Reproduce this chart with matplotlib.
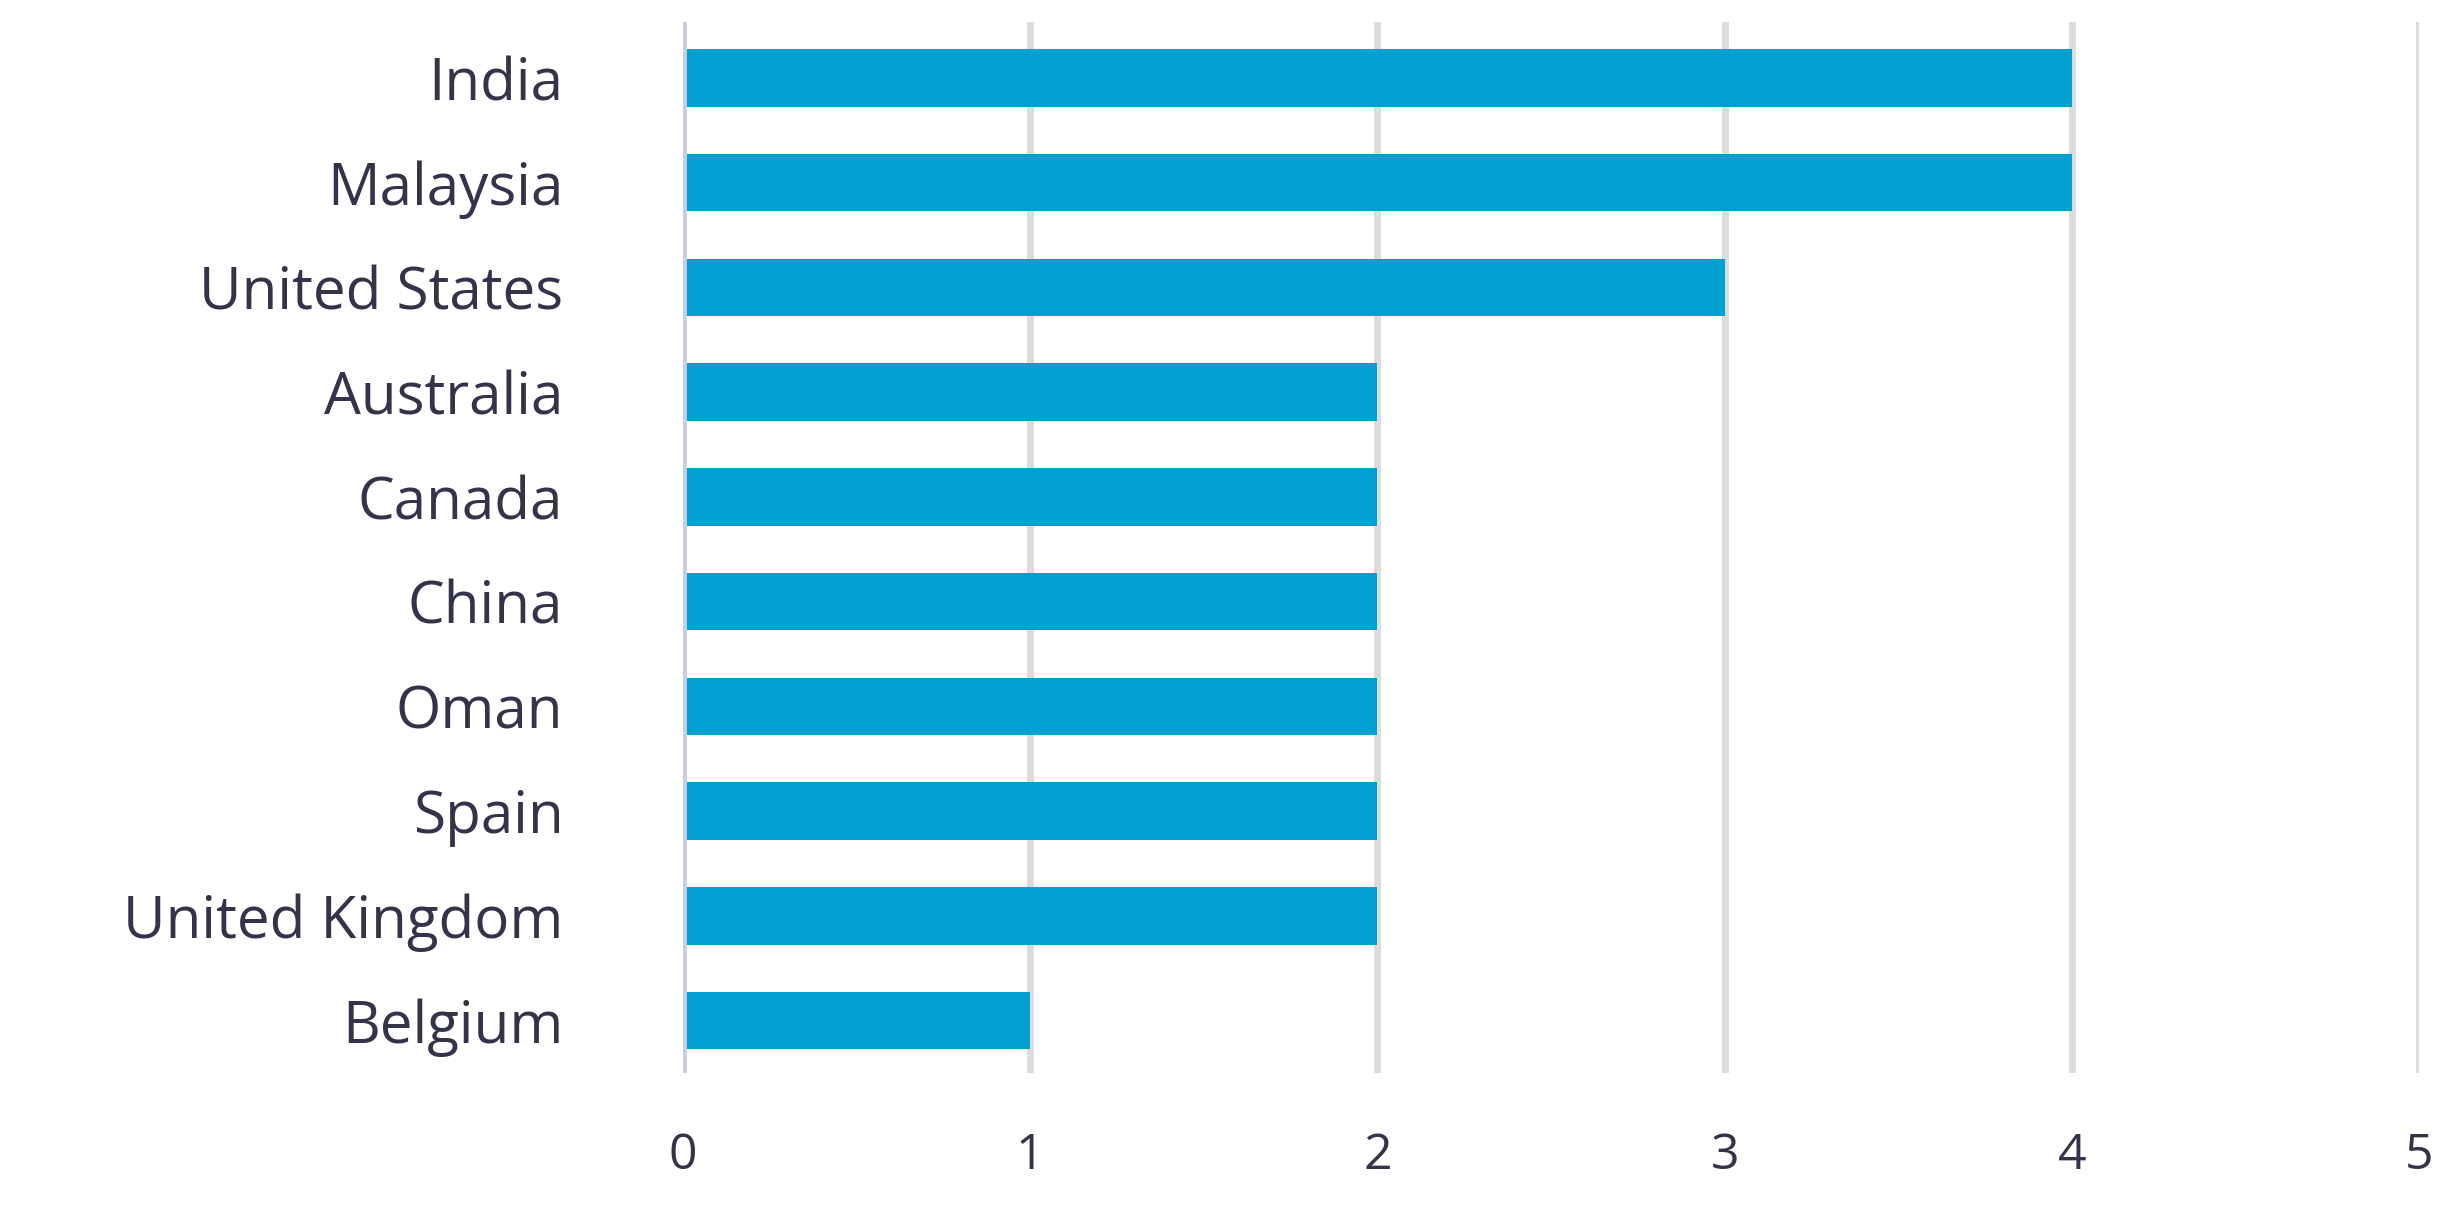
import numpy as np
import matplotlib.pyplot as plt

countries = ['India', 'Malaysia', 'United States', 'Australia', 'Canada',
             'China', 'Oman', 'Spain', 'United Kingdom', 'Belgium']
counts = [4, 4, 3, 2, 2, 2, 2, 2, 2, 1]
xticks = [0, 1, 2, 3, 4, 5]

plt.rcParams['font.family'] = ['Open Sans', 'DejaVu Sans']

fig = plt.figure(figsize=(24.56, 12.05), dpi=100)
ax = fig.add_axes([0.278, 0.1095, 0.707, 0.872])

y = np.arange(len(countries))
ax.barh(y, counts, height=0.55, color='#00A0D1', zorder=3)

ax.set_xlim(0, 5)
ax.set_ylim(9.5, -0.53)
ax.set_yticks(y)
ax.set_yticklabels(countries, fontweight='medium')
ax.set_xticks(xticks)
ax.set_xticklabels([str(t) for t in xticks], fontweight='medium')

for x in xticks[1:]:
    ax.axvline(x, color='#dcdcdc', lw=5, zorder=1)
ax.axvline(0, color='#c9cde0', lw=5, zorder=4)

for s in ax.spines.values():
    s.set_visible(False)

ax.tick_params(axis='both', length=0, colors='#33334a')
ax.tick_params(axis='y', pad=86, labelsize=42)
ax.tick_params(axis='x', pad=42, labelsize=36)

plt.savefig('out.png', dpi=100)
